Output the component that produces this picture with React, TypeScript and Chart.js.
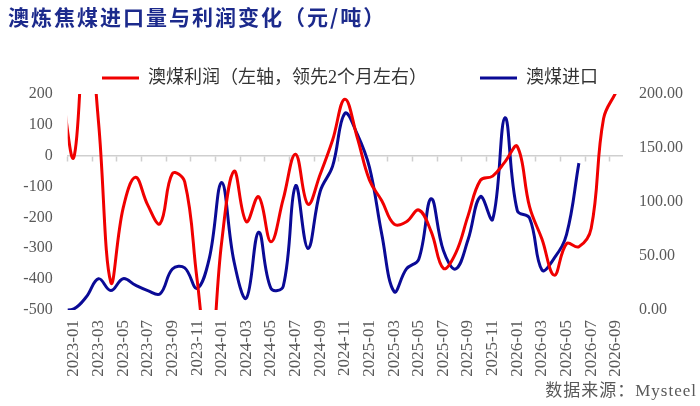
import { useEffect, useRef } from "react"
import { Chart, registerables } from "chart.js"

Chart.register(...registerables)

// monthly categories; 2022-12 is only there so the lines run off the left edge
const months = [
  "2022-12",
  "2023-01", "2023-02", "2023-03", "2023-04", "2023-05", "2023-06",
  "2023-07", "2023-08", "2023-09", "2023-10", "2023-11", "2023-12",
  "2024-01", "2024-02", "2024-03", "2024-04", "2024-05", "2024-06",
  "2024-07", "2024-08", "2024-09", "2024-10", "2024-11", "2024-12",
  "2025-01", "2025-02", "2025-03", "2025-04", "2025-05", "2025-06",
  "2025-07", "2025-08", "2025-09", "2025-10", "2025-11", "2025-12",
  "2026-01", "2026-02", "2026-03", "2026-04", "2026-05", "2026-06",
  "2026-07", "2026-08", "2026-09",
]

// 澳煤利润 (left axis), 2022-12 .. 2026-09
const profit = [
  220,
  -5, 480, 110, -410, -170, -70, -160, -220, -58, -85, -400, -700,
  -280, -50, -214, -133, -279, -140, 5, -157, -60, 50, 183, 60,
  -79, -146, -222, -214, -176, -245, -365, -316, -195, -80, -66, -20,
  30, -166, -270, -387, -285, -295, -235, 120, 205,
]

// 澳煤进口 (right axis), 2022-12 .. 2026-06
const imports = [
  0,
  1, 12, 29, 18, 29, 23, 18, 15, 38, 39, 20, 48,
  118, 45, 11, 72, 20, 22, 115, 57, 110, 133, 182, 163,
  132, 70, 17, 38, 47, 103, 55, 38, 65, 105, 84, 178,
  92, 85, 37, 48, 70, 136,
]

const leftTicks = [-500, -400, -300, -200, -100, 0, 100, 200]
const rightTicks = [0, 50, 100, 150, 200]

const RED = "#f00000"
const BLUE = "#0a0a96"
const AXIS = "#cfcfcf"
const TICK_TEXT = "#595959"
const SERIF = "\"Liberation Serif\", \"Noto Sans CJK SC\", serif"

export default function App() {
  const canvasRef = useRef<HTMLCanvasElement>(null)
  const chartRef = useRef<Chart | null>(null)

  useEffect(() => {
    if (!canvasRef.current) return
    if (chartRef.current) chartRef.current.destroy()

    const first = months[1]
    const last = months[months.length - 1]

    chartRef.current = new Chart(canvasRef.current, {
      type: "line",
      data: {
        labels: months,
        datasets: [
          {
            label: "澳煤利润（左轴，领先2个月左右）",
            data: profit,
            borderColor: RED,
            backgroundColor: RED,
            borderWidth: 3,
            yAxisID: "y",
            tension: 0.4,
          },
          {
            label: "澳煤进口",
            data: imports,
            borderColor: BLUE,
            backgroundColor: BLUE,
            borderWidth: 3,
            yAxisID: "y1",
            tension: 0.4,
          },
        ],
      },
      options: {
        animation: false,
        responsive: true,
        maintainAspectRatio: false,
        layout: { padding: { top: 16, left: 0, right: 0, bottom: 0 } },
        elements: {
          point: { radius: 0, hoverRadius: 0 },
          line: { capBezierPoints: false },
        },
        plugins: {
          legend: {
            position: "top",
            maxHeight: 78,
            labels: {
              usePointStyle: true,
              pointStyle: "line",
              pointStyleWidth: 37,
              padding: 53,
              color: "#333333",
              font: { family: SERIF, size: 18 },
            },
          },
          tooltip: { enabled: false },
        },
        scales: {
          x: {
            type: "category",
            min: first,
            max: last,
            offset: true,
            grid: { display: false, drawTicks: false },
            border: { display: false },
            ticks: {
              autoSkip: false,
              minRotation: 90,
              maxRotation: 90,
              padding: 10,
              color: TICK_TEXT,
              font: { family: SERIF, size: 17 },
              callback: function (value, index) {
                return index % 2 === 0 ? this.getLabelForValue(value as number) : ""
              },
            },
            afterFit: (scale) => {
              scale.height = 96
            },
          },
          x2: {
            type: "category",
            min: first,
            max: last,
            offset: true,
            position: { y: 0 },
            grid: {
              offset: true,
              drawOnChartArea: false,
              tickLength: 5,
              tickWidth: 1.5,
              tickColor: (ctx) => (ctx.index !== undefined && ctx.index % 2 === 0 ? AXIS : "transparent"),
            },
            border: { color: AXIS, width: 1.5 },
            ticks: { display: false, autoSkip: false },
          },
          y: {
            position: "left",
            min: leftTicks[0],
            max: leftTicks[leftTicks.length - 1],
            grid: { display: false, drawTicks: false },
            border: { display: false },
            ticks: {
              stepSize: leftTicks[1] - leftTicks[0],
              padding: 15,
              color: TICK_TEXT,
              font: { family: SERIF, size: 16 },
            },
            afterFit: (scale) => {
              scale.width = 67.7
            },
          },
          y1: {
            position: "right",
            min: rightTicks[0],
            max: rightTicks[rightTicks.length - 1],
            grid: { display: false, drawTicks: false },
            border: { display: false },
            ticks: {
              stepSize: rightTicks[1] - rightTicks[0],
              padding: 17,
              color: TICK_TEXT,
              font: { family: SERIF, size: 16 },
              callback: (v) => Number(v).toFixed(2),
            },
            afterFit: (scale) => {
              scale.width = 78
            },
          },
        },
      },
    })

    return () => {
      if (chartRef.current) {
        chartRef.current.destroy()
        chartRef.current = null
      }
    }
  }, [])

  return (
    <div style={{ position: "fixed", left: 0, top: 0, width: 700, height: 406, background: "#fff" }}>
      <canvas ref={canvasRef} />
      <div
        style={{
          position: "absolute",
          left: 8,
          top: 6,
          fontFamily: "\"Noto Sans CJK SC\", sans-serif",
          fontWeight: 700,
          fontSize: 21,
          lineHeight: "21px",
          letterSpacing: 2,
          color: "#1c2a8c",
          whiteSpace: "nowrap",
        }}
      >
        澳炼焦煤进口量与利润变化（元/吨）
      </div>
      <div
        style={{
          position: "absolute",
          right: 3,
          top: 382,
          fontFamily: SERIF,
          fontSize: 17,
          lineHeight: "17px",
          letterSpacing: 1,
          color: TICK_TEXT,
          whiteSpace: "nowrap",
        }}
      >
        数据来源：Mysteel
      </div>
    </div>
  )
}
